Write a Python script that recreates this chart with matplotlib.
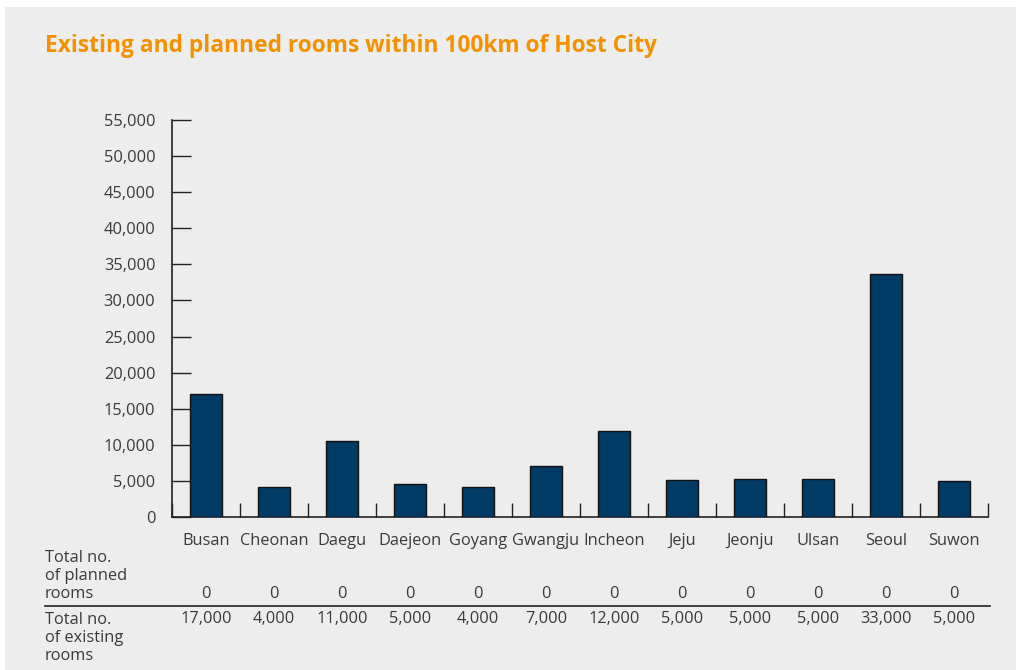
import numpy as np
import matplotlib.pyplot as plt
from matplotlib.patches import Rectangle
from matplotlib.transforms import blended_transform_factory

plt.rcParams['font.family'] = ['Open Sans', 'DejaVu Sans']

# data
cities = ['Busan', 'Cheonan', 'Daegu', 'Daejeon', 'Goyang', 'Gwangju',
          'Incheon', 'Jeju', 'Jeonju', 'Ulsan', 'Seoul', 'Suwon']
bar_rooms = [17050, 4150, 10550, 4550, 4150, 7050,
             11900, 5100, 5250, 5250, 33650, 5000]
planned = ['0'] * 12
existing = ['17,000', '4,000', '11,000', '5,000', '4,000', '7,000',
            '12,000', '5,000', '5,000', '5,000', '33,000', '5,000']
yticks = np.arange(0, 55001, 5000)

W, H = 1016, 670
bg = '#ecedec'
txt = '#3a3a3a'
navy = '#003b66'
fs = 11.8

fig = plt.figure(figsize=(W / 100, H / 100), dpi=100, facecolor='white')
fig.patches.append(Rectangle((5 / W, 0), 1, 1 - 7 / H, transform=fig.transFigure,
                             facecolor=bg, edgecolor='none', zorder=-10))

fig.text(45 / W, 1 - 46 / H, 'Existing and planned rooms within 100km of Host City',
         color='#f39200', fontsize=16.4, fontweight='bold', va='center', ha='left')

ax = fig.add_axes([172 / W, 1 - 517 / H, (988 - 172) / W, (517 - 120) / H])
ax.set_facecolor('none')

x = np.arange(len(cities))
ax.bar(x, bar_rooms, width=0.46, color=navy, edgecolor='#111111', linewidth=1, zorder=3)

ax.set_xlim(-0.5, len(cities) - 0.5)
ax.set_ylim(0, 55000)
ax.set_yticks(yticks)
ax.set_yticklabels([f'{v:,}' for v in yticks], fontsize=fs, color=txt)
ax.tick_params(axis='y', direction='in', length=14, width=1, color='#222222', pad=12)

# x ticks sit between the categories
ax.set_xticks(np.arange(-0.5, len(cities) + 0.5, 1))
ax.set_xticklabels([])
ax.tick_params(axis='x', direction='in', length=10, width=1, color='#222222')

for s in ['top', 'right']:
    ax.spines[s].set_visible(False)
for s in ['left', 'bottom']:
    ax.spines[s].set_color('#222222')
    ax.spines[s].set_linewidth(1.2)

# table under the chart
def ypos(py):
    return 1 - py / H

bt = blended_transform_factory(ax.transData, fig.transFigure)
for i, c in enumerate(cities):
    ax.text(i, ypos(541), c, transform=bt, fontsize=fs, color=txt,
            ha='center', va='center', clip_on=False)
    ax.text(i, ypos(594), planned[i], transform=bt, fontsize=fs, color=txt,
            ha='center', va='center', clip_on=False)
    ax.text(i, ypos(619), existing[i], transform=bt, fontsize=fs, color=txt,
            ha='center', va='center', clip_on=False)

fig.text(45 / W, ypos(576), 'Total no.\nof planned\nrooms', fontsize=fs, color=txt,
         ha='left', va='center', linespacing=1.15)
fig.text(45 / W, ypos(638), 'Total no.\nof existing\nrooms', fontsize=fs, color=txt,
         ha='left', va='center', linespacing=1.15)
fig.add_artist(plt.Line2D([45 / W, 990 / W], [ypos(606), ypos(606)],
                          color='#222222', linewidth=1.2))

fig.savefig('out.png', dpi=100, facecolor=fig.get_facecolor())
